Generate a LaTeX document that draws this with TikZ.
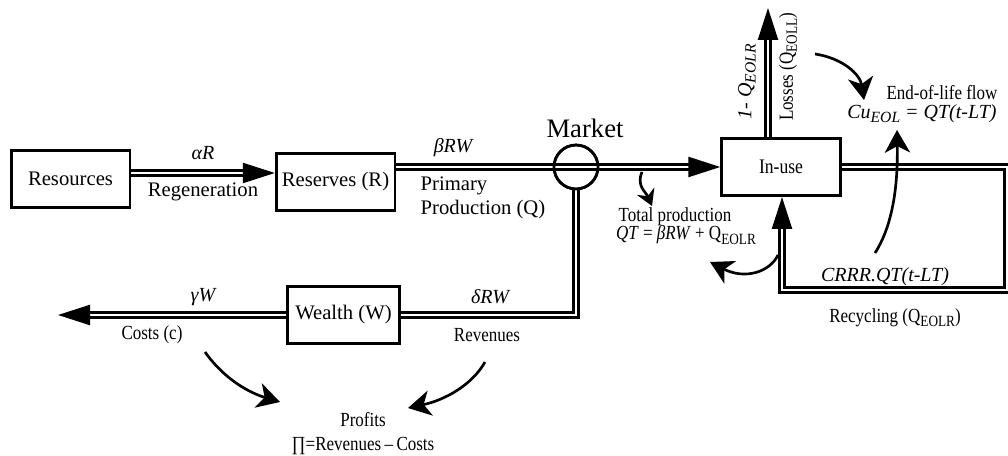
\documentclass[tikz,border=0pt]{standalone}
\usepackage{fontspec}
\setmainfont{Liberation Serif}
\newfontfamily\narrowfont[FakeStretch=0.85]{Liberation Serif}
\usetikzlibrary{arrows.meta}
\newcommand{\lsub}[1]{\raisebox{-0.45ex}{\scalebox{0.78}{#1}}}

\begin{document}
\begin{tikzpicture}[x=0.75pt,y=-0.75pt,
    box/.style={draw, line width=2pt, minimum height=43pt, inner sep=0pt, font=\fontsize{15.5}{18}\selectfont},
    market/.style={draw, circle, line width=2pt, minimum size=33pt, inner sep=0pt},
    flow/.style={double, double distance=1.8pt, line width=1.8pt},
    flowarrow/.style={flow, -{Triangle[length=24pt,width=15pt]}},
    curvearrow/.style={line width=2pt, -{Stealth[length=17pt,width=19pt,inset=5pt]}},
    hookarrow/.style={line width=2pt, -{Stealth[length=12pt,width=14pt,inset=4pt]}},
    lbl/.style={font=\fontsize{15.5}{18}\selectfont, inner sep=0pt},
    nlbl/.style={font=\narrowfont\fontsize{15}{17}\selectfont, inner sep=0pt},
    ilbl/.style={font=\fontsize{15}{17}\selectfont\itshape, inner sep=0pt}]

    \useasboundingbox (0,0) rectangle (1008,456);

    % Draw the stocks
    \node[box, minimum width=89pt] (res) at (70.5,179) {Resources};
    \node[box, minimum width=89pt] (rsv) at (335.5,182) {Reserves (R)};
    \node[box, minimum width=84pt] (wlt) at (343.5,315) {Wealth (W)};
    \node[box, minimum width=89pt, font=\narrowfont\fontsize{15.5}{18}\selectfont] (use) at (781,167) {In-use};
    \node[market] (mkt) at (576,167) {};

    % Regeneration of the reserves
    \draw[flowarrow] (res.east |- 0,173) -- (rsv.west |- 0,173);

    % Primary production through the market
    \draw[flowarrow] (rsv.east |- mkt) -- (use.west);

    % Revenues back to wealth
    \draw[flow] (mkt.south) |- (wlt.east);

    % Costs leaving wealth
    \coordinate (costend) at (58,315);
    \draw[flowarrow] (wlt.west) -- (costend);

    % Losses out of use
    \coordinate (lossend) at (768,8);
    \draw[flowarrow] (use.north -| lossend) -- (lossend);

    % Recycling loop
    \coordinate (loopNE) at (1007,167);
    \coordinate (loopSW) at (782,290);
    \draw[flowarrow] (use.east) -- (loopNE) |- (loopSW) -- (loopSW |- use.south);

    % Market circle on top of the flow
    \node[market] at (mkt.center) {};

    % Labels
    \node[ilbl] (alr) at (203,153) {αR};
    \node[lbl] (regen) at (203,192) {Regeneration};
    \node[ilbl] (brw) at (453,148) {βRW};
    \node[lbl, align=left] (prim) at (483,198) {Primary\\Production (Q)};
    \node[font=\fontsize{20}{22}\selectfont, inner sep=0pt] (mktlbl) at (585,128) {Market};
    \node[nlbl] (totp) at (675,217) {Total production};
    \node[nlbl] (qt) at (686,235) {\textit{QT} = \textit{βRW} + Q\lsub{EOLR}};
    \node[ilbl] (gw) at (203,297) {γW};
    \node[nlbl] (cost) at (152,335) {Costs (c)};
    \node[ilbl] (drw) at (490,297) {δRW};
    \node[nlbl] (rev) at (487,335) {Revenues};
    \node[nlbl] (prof) at (363,420) {Profits};
    \node[nlbl] (pi) at (363,446) {∏=Revenues\,–\,Costs};
    \node[ilbl, rotate=90] (oneq) at (747,82) {1- Q\lsub{EOLR}};
    \node[nlbl, rotate=90] (loss) at (788,67) {Losses (Q\lsub{EOLL})};
    \node[nlbl] (eol) at (942,93) {End-of-life flow};
    \node[ilbl] (cueol) at (922,114) {Cu\lsub{EOL} = QT(t-LT)};
    \node[ilbl] (crrr) at (885,277) {CRRR.QT(t-LT)};
    \node[nlbl] (recy) at (895,318) {Recycling (Q\lsub{EOLR})};

    % Costs and revenues feed the profits
    \coordinate (costtail) at (205,352);
    \coordinate (costtip) at (280,402);
    \draw[curvearrow] (costtail) .. controls (225,380) and (250,393) .. (costtip);
    \coordinate (revtail) at (485,362);
    \coordinate (revtip) at (408,408);
    \draw[curvearrow] (revtail) .. controls (472,385) and (445,400) .. (revtip);

    % Hook to total production
    \coordinate (tottail) at (642,172);
    \coordinate (tottip) at (652,206);
    \draw[hookarrow] (tottail) .. controls (636,186) and (646,192) .. (tottip);

    % End-of-life flow
    \coordinate (eoltail) at (815,54);
    \coordinate (eoltip) at (864,100);
    \draw[curvearrow] (eoltail) .. controls (842,58) and (860,74) .. (eoltip);

    % Recycled share back to end-of-life
    \coordinate (rectail) at (875,253);
    \coordinate (rectip) at (897,130);
    \draw[curvearrow] (rectail) .. controls (893,225) and (898,185) .. (rectip);

    % Hook near the in-use input
    \coordinate (usetail) at (778,255);
    \coordinate (usetip) at (710,262);
    \draw[curvearrow] (usetail) .. controls (770,272) and (745,280) .. (usetip);
\end{tikzpicture}
\end{document}
